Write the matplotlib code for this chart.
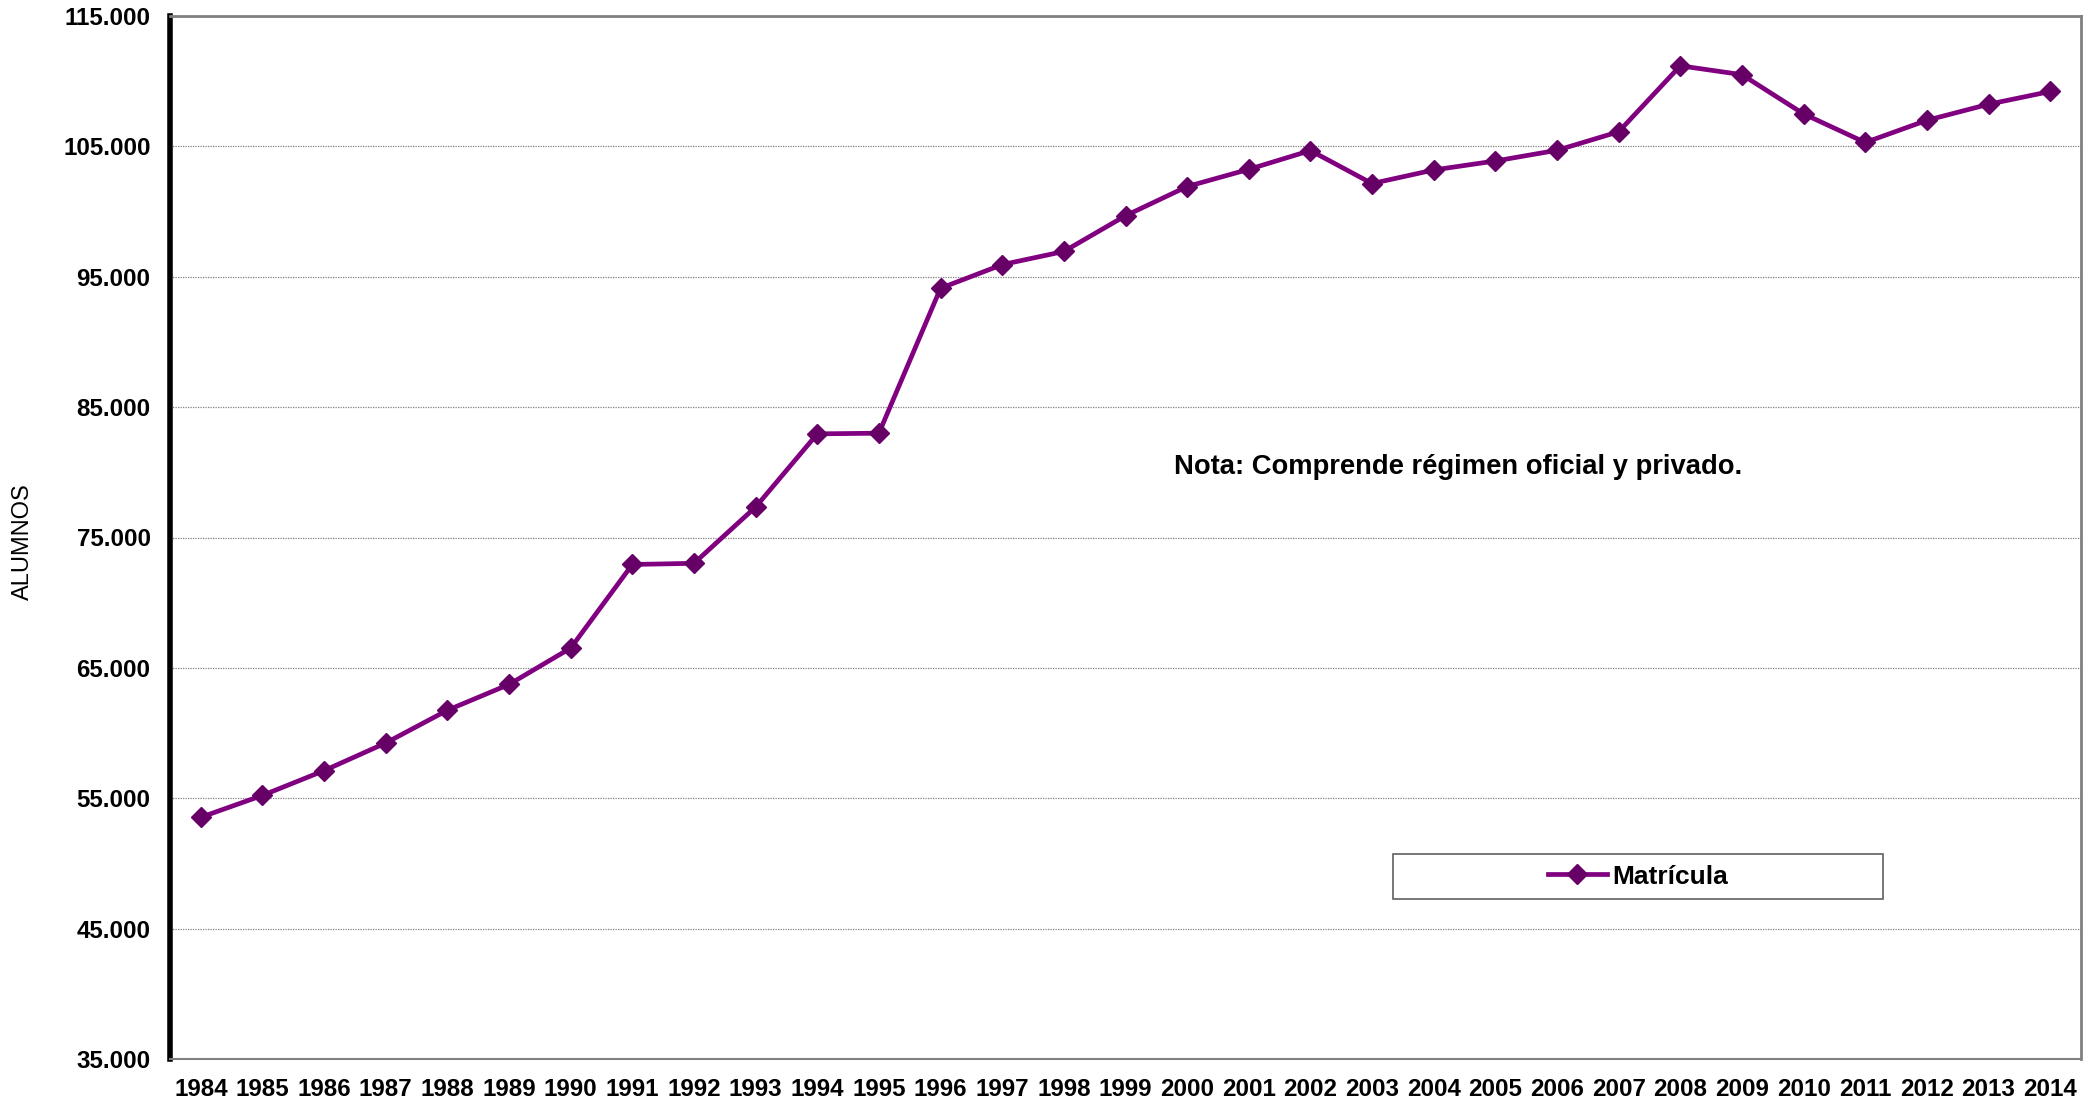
import matplotlib.pyplot as plt
from matplotlib.patches import Rectangle
from matplotlib.ticker import FuncFormatter

years = [str(y) for y in range(1984, 2015)]
matricula = [53540, 55220, 57120, 59240, 61750, 63730, 66520, 72930, 73020, 77340,
             82950, 83000, 94120, 95930, 96940, 99680, 101920, 103240, 104680, 102150,
             103190, 103880, 104700, 106120, 111180, 110500, 107490, 105300, 107000,
             108230, 109210]
y_ticks = [35000, 45000, 55000, 65000, 75000, 85000, 95000, 105000, 115000]

plt.rcParams['font.family'] = ['Liberation Sans', 'DejaVu Sans']

fig = plt.figure(figsize=(21, 11.04), dpi=100)
ax = fig.add_axes([170 / 2100, 1 - 1059 / 1104, (2081 - 170) / 2100, (1059 - 16) / 1104])

x = list(range(len(years)))
ax.plot(x, matricula, color='#800080', lw=3.4, marker='D', ms=10.5,
        mfc='#660066', mec='#660066', label='Matrícula', zorder=3)

ax.set_xlim(-0.5, len(years) - 0.5)
ax.set_ylim(35000, 115000)
ax.set_xticks(x)
ax.set_xticklabels(years)
ax.set_yticks(y_ticks)
ax.yaxis.set_major_formatter(FuncFormatter(lambda v, p: f"{int(v):,}".replace(',', '.')))
ax.tick_params(length=0, labelsize=17.4)
ax.tick_params(axis='x', pad=14)
ax.tick_params(axis='y', pad=14)
for lab in ax.get_xticklabels() + ax.get_yticklabels():
    lab.set_fontweight('bold')

ax.grid(axis='y', color='#808080', lw=0.9, ls=(0, (1, 1)))
ax.set_axisbelow(True)

ax.spines['left'].set_color('black')
ax.spines['left'].set_linewidth(4)
for s in ['top', 'right']:
    ax.spines[s].set_color('#808080')
    ax.spines[s].set_linewidth(2)
ax.spines['bottom'].set_color('#808080')
ax.spines['bottom'].set_linewidth(1.5)

fig.text(23 / 2100, 1 - 542 / 1104, 'ALUMNOS', rotation=90, fontsize=17,
         ha='center', va='center')

fig.text(1458 / 2100, 1 - 467 / 1104, 'Nota: Comprende régimen oficial y privado.',
         fontsize=19.7, fontweight='bold', ha='center', va='center')

# legend box
bx0, by0, bx1, by1 = 1393 / 2100, 1 - 899 / 1104, 1883 / 2100, 1 - 854 / 1104
fig.patches.append(Rectangle((bx0, by0), bx1 - bx0, by1 - by0, transform=fig.transFigure,
                             fill=True, facecolor='white', edgecolor='#606060', lw=1.2,
                             zorder=5))
leg = fig.legend(loc='center', bbox_to_anchor=((bx0 + bx1) / 2, (by0 + by1) / 2),
                 frameon=False, handlelength=2.2, handletextpad=0.2,
                 prop={'weight': 'bold', 'size': 19})
leg.set_zorder(6)

fig.savefig('out.png', dpi=100)
